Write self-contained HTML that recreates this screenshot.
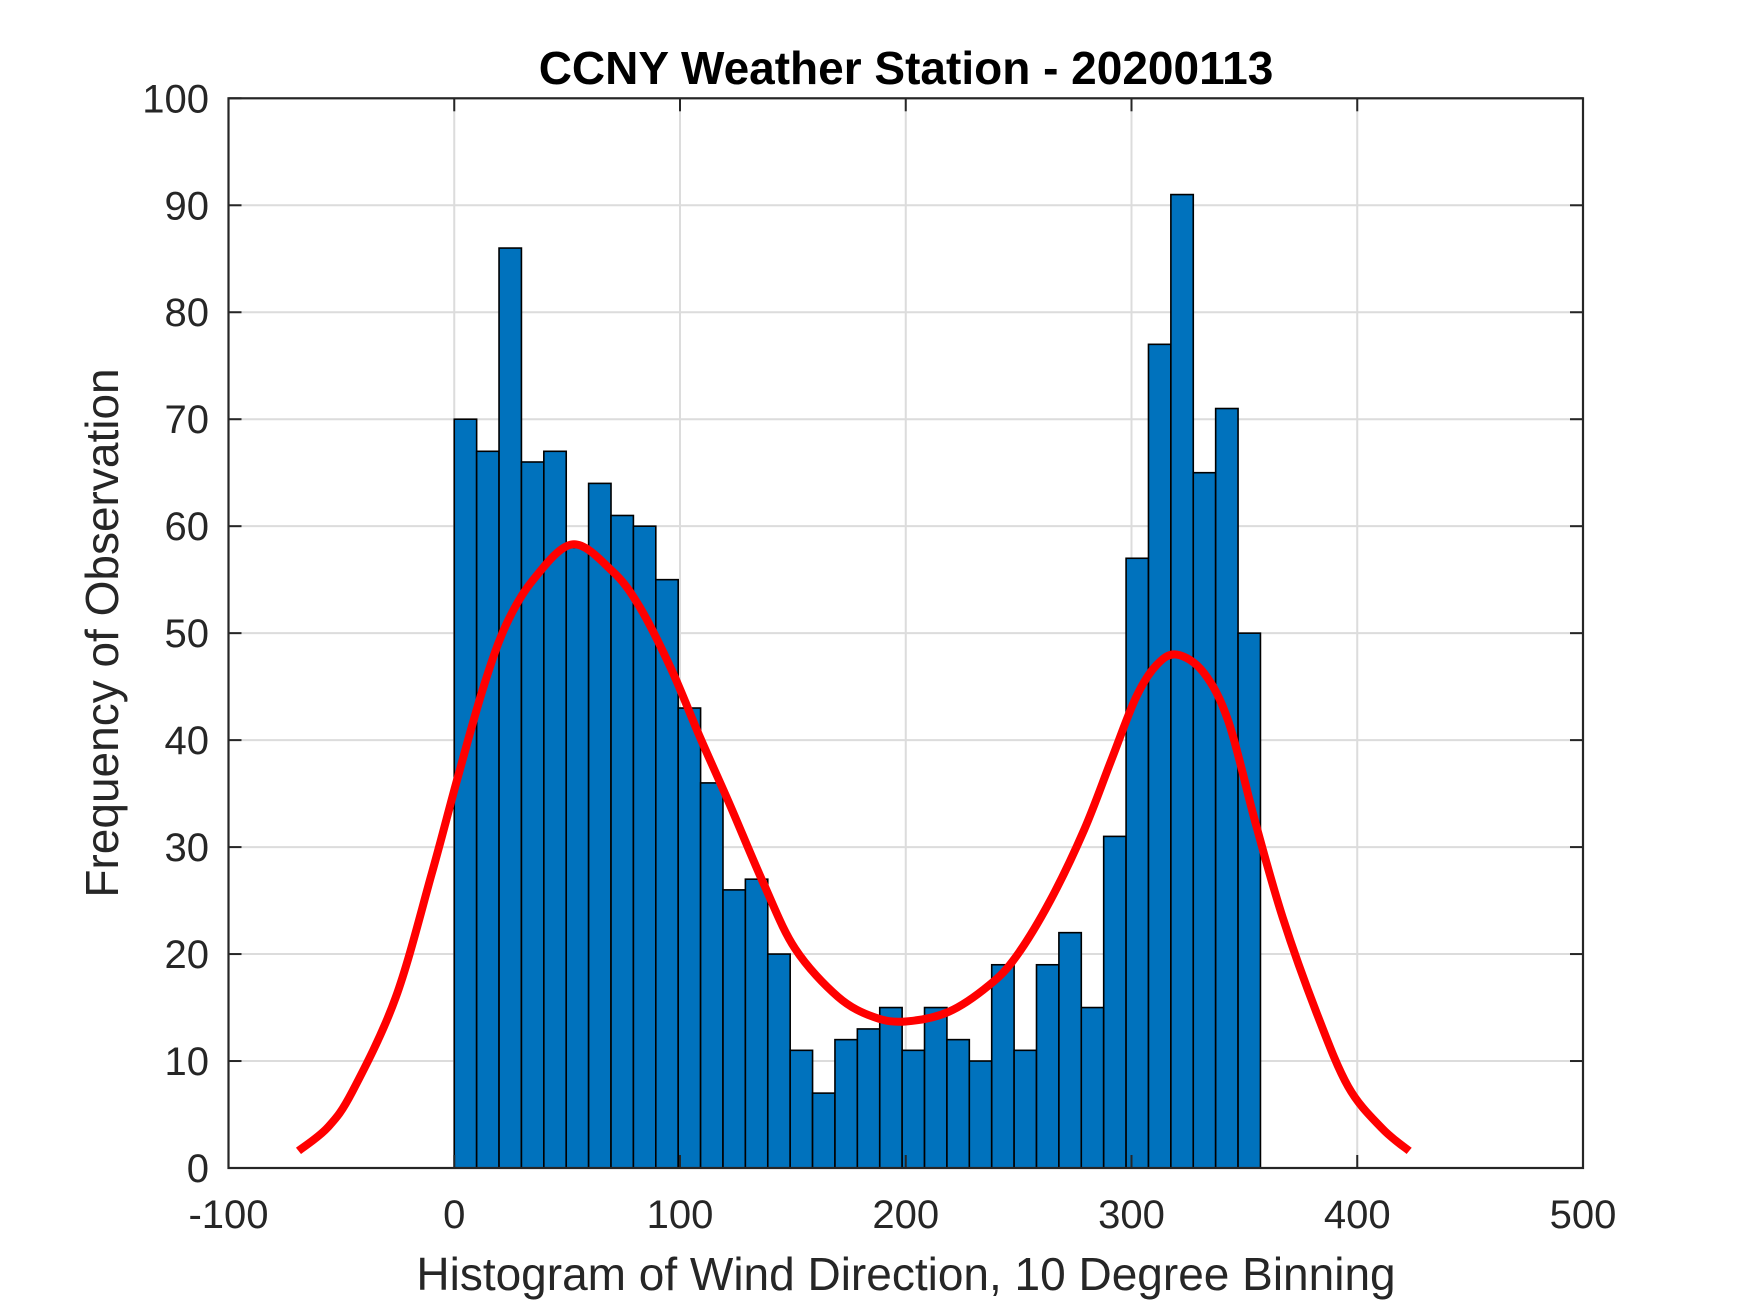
<!DOCTYPE html>
<html><head><meta charset="utf-8"><style>
body{margin:0;background:#fff}
svg{display:block;font-family:"Liberation Sans",Arial,sans-serif}
</style></head><body>
<svg id="c" width="1750" height="1313" viewBox="0 0 1750 1313">
<rect width="1750" height="1313" fill="#fff"/>
<g id="grid"></g><g id="bars"></g><g id="curve"></g><g id="axes"></g>
</svg>
<script>
const binStart = 0;
const binWidth = 9.92;
const counts = [70,67,86,66,67,58,64,61,60,55,43,36,26,27,20,11,7,12,13,15,11,15,12,10,19,11,19,22,15,31,57,77,91,65,71,50];
const fitX = [-69,-56,-45,-26,-10,1.4,13,23,35,52.4,70,82,96,109,122,137,151,170,186,200,219,237,249,264,279,291,302,311,320,332,343,355,367,382,396,411,423];
const fitY = [1.6,3.8,7.2,15.9,27.5,36.4,45,50.8,55,58.3,55.8,52.5,46.7,40.2,34,26.6,20.5,16,14.1,13.7,14.6,17.1,19.8,25,31.6,38.1,44,47,48,46.3,41.7,32.2,23.4,14.5,7.6,3.7,1.6];
const xTicks = [-100,0,100,200,300,400,500];
const yTicks = [0,10,20,30,40,50,60,70,80,90,100];
const L=228.5,R=1583,T=98.3,B=1168;
const X=v=>L+(v+100)/600*(R-L);
const Y=v=>B-v/100*(B-T);
const NS="http://www.w3.org/2000/svg";
function mk(tag,attrs,parent){const e=document.createElementNS(NS,tag);for(const k in attrs)e.setAttribute(k,attrs[k]);parent.appendChild(e);return e;}
const grid=document.getElementById('grid'),bars=document.getElementById('bars'),curve=document.getElementById('curve'),axes=document.getElementById('axes');
xTicks.forEach(t=>{
  const g=mk('line',{x1:X(t),x2:X(t),y1:T,y2:B,stroke:'#dcdcdc','stroke-width':2},grid);
  
  
  mk('line',{x1:X(t),x2:X(t),y1:B,y2:B-13,stroke:'#262626','stroke-width':2},axes);
  mk('line',{x1:X(t),x2:X(t),y1:T,y2:T+13,stroke:'#262626','stroke-width':2},axes);
  const tx=mk('text',{x:X(t),y:1228,'text-anchor':'middle','font-size':40,fill:'#262626'},axes);
  tx.textContent=t;
  
  
});
yTicks.forEach(t=>{
  const g=mk('line',{x1:L,x2:R,y1:Y(t),y2:Y(t),stroke:'#dcdcdc','stroke-width':2},grid);
  
  
  mk('line',{x1:L,x2:L+13,y1:Y(t),y2:Y(t),stroke:'#262626','stroke-width':2},axes);
  mk('line',{x1:R,x2:R-13,y1:Y(t),y2:Y(t),stroke:'#262626','stroke-width':2},axes);
  const tx=mk('text',{x:209,y:Y(t)+14,'text-anchor':'end','font-size':40,fill:'#262626'},axes);
  tx.textContent=t;
  
  
});
counts.forEach((c,i)=>{
  const x0=X(binStart+i*binWidth),x1=X(binStart+(i+1)*binWidth);
  const r=mk('rect',{x:x0,y:Y(c),width:x1-x0,height:B-Y(c),fill:'#0072bd',stroke:'#000','stroke-width':1.6},bars);
  
  
});
let pts=fitX.map((x,i)=>[X(x),Y(fitY[i])]);
let d='M'+pts[0][0]+','+pts[0][1];
for(let i=0;i<pts.length-1;i++){
  const p0=pts[Math.max(0,i-1)],p1=pts[i],p2=pts[i+1],p3=pts[Math.min(pts.length-1,i+2)];
  const c1=[p1[0]+(p2[0]-p0[0])/6,p1[1]+(p2[1]-p0[1])/6];
  const c2=[p2[0]-(p3[0]-p1[0])/6,p2[1]-(p3[1]-p1[1])/6];
  d+=' C'+c1+' '+c2+' '+p2;
}
const path=mk('path',{d:d,fill:'none',stroke:'#ff0000','stroke-width':8,'stroke-linejoin':'round'},curve);


const box=mk('rect',{x:L,y:T,width:R-L,height:B-T,fill:'none',stroke:'#262626','stroke-width':2.2},axes);


const title=mk('text',{x:906,y:84,'text-anchor':'middle','font-size':46,'font-weight':'bold',fill:'#000'},axes);
title.textContent='CCNY Weather Station - 20200113';


const xl=mk('text',{x:906,y:1290,'text-anchor':'middle','font-size':46,fill:'#262626'},axes);
xl.textContent='Histogram of Wind Direction, 10 Degree Binning';


const yl=mk('text',{x:0,y:0,'text-anchor':'middle','font-size':46,fill:'#262626',transform:'translate(118,633) rotate(-90)'},axes);
yl.textContent='Frequency of Observation';


</script>
</body></html>
